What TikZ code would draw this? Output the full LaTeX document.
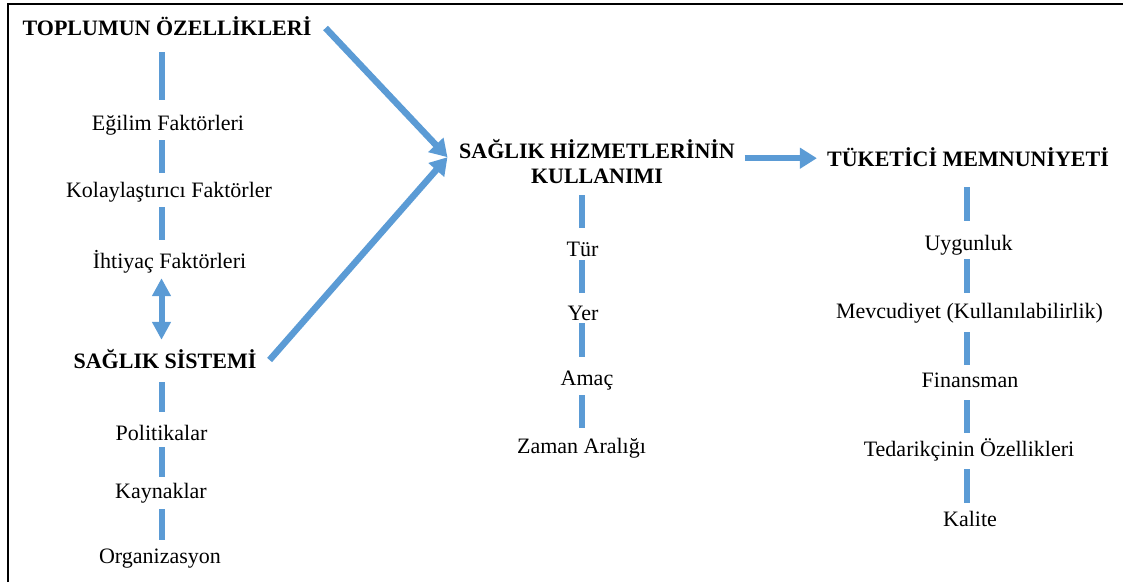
\documentclass[tikz,border=0pt]{standalone}
\usepackage{fontspec}
\setmainfont{Liberation Serif}
\usetikzlibrary{arrows.meta}
\definecolor{flowblue}{HTML}{5B9BD5}
\begin{document}
\begin{tikzpicture}[x=1pt,y=-1pt,
  item/.style={font=\fontsize{22}{26}\selectfont, inner sep=0pt,
    text height=16pt, text depth=5pt, anchor=base},
  head/.style={item, font=\fontsize{22}{26}\selectfont\bfseries},
  link/.style={draw=flowblue, line width=6pt},
  flow/.style={draw=flowblue, line width=6.5pt,
    -{Triangle[length=17pt,width=20pt]}},
  twoway/.style={draw=flowblue, line width=6pt,
    {Triangle[length=18pt,width=18pt]}-{Triangle[length=18pt,width=18pt]}}]
\useasboundingbox (0,0) rectangle (1123,582);
% frame (top and left edges)
\draw[line width=2pt] (7.5,582) -- (7.5,3.5) -- (1123,3.5);

% column axes for the vertical links
\coordinate (colL) at (161.5,0);
\coordinate (colM) at (582,0);
\coordinate (colR) at (967,0);

% left column
\node[head] (top) at (167,35) {TOPLUMUN ÖZELLİKLERİ};
\node[item] (egi) at (168,130) {Eğilim Faktörleri};
\node[item] (kol) at (169,197) {Kolaylaştırıcı Faktörler};
\node[item] (iht) at (169.5,268) {İhtiyaç Faktörleri};
\node[head] (sag) at (165,368) {SAĞLIK SİSTEMİ};
\node[item] (pol) at (161.5,440) {Politikalar};
\node[item] (kay) at (161,498) {Kaynaklar};
\node[item] (org) at (160,563) {Organizasyon};

% middle column
\node[head] (hiz1) at (597,158) {SAĞLIK HİZMETLERİNİN};
\node[head] (hiz2) at (597,183) {KULLANIMI};
\node[item] (tur) at (582.5,256) {Tür};
\node[item] (yer) at (583,320) {Yer};
\node[item] (ama) at (587,385) {Amaç};
\node[item] (zam) at (581.5,453) {Zaman Aralığı};

% right column
\node[head] (tuk) at (968,166) {TÜKETİCİ MEMNUNİYETİ};
\node[item] (uyg) at (968.5,250) {Uygunluk};
\node[item] (mev) at (969.5,318) {Mevcudiyet (Kullanılabilirlik)};
\node[item] (fin) at (970,387) {Finansman};
\node[item] (ted) at (969,456) {Tedarikçinin Özellikleri};
\node[item] (kal) at (970,526) {Kalite};

% vertical links, left column
\draw[link, shorten <=12pt, shorten >=14pt] (top.south -| colL) -- (egi.north -| colL);
\draw[link, shorten <=5pt, shorten >=8pt] (egi.south -| colL) -- (kol.north -| colL);
\draw[link, shorten <=5pt, shorten >=12pt] (kol.south -| colL) -- (iht.north -| colL);
\draw[twoway, shorten <=5pt, shorten >=12pt] (iht.south -| colL) -- (sag.north -| colL);
\draw[link, shorten <=9pt, shorten >=12pt] (sag.south -| colL) -- (pol.north -| colL);
\draw[link, shorten <=2pt, shorten >=5pt] (pol.south -| colL) -- (kay.north -| colL);
\draw[link, shorten <=6pt, shorten >=7pt] (kay.south -| colL) -- (org.north -| colL);

% vertical links, middle column
\draw[link, shorten <=7pt, shorten >=12pt] (hiz2.south -| colM) -- (tur.north -| colM);
\draw[link, shorten <=-1pt, shorten >=11pt] (tur.south -| colM) -- (yer.north -| colM);
\draw[link, shorten <=-2pt, shorten >=12pt] (yer.south -| colM) -- (ama.north -| colM);
\draw[link, shorten <=5pt, shorten >=9pt] (ama.south -| colM) -- (zam.north -| colM);

% vertical links, right column
\draw[link, shorten <=16pt, shorten >=13pt] (tuk.south -| colR) -- (uyg.north -| colR);
\draw[link, shorten <=4pt, shorten >=9pt] (uyg.south -| colR) -- (mev.north -| colR);
\draw[link, shorten <=9pt, shorten >=6pt] (mev.south -| colR) -- (fin.north -| colR);
\draw[link, shorten <=8pt, shorten >=7pt] (fin.south -| colR) -- (ted.north -| colR);
\draw[link, shorten <=8pt, shorten >=7pt] (ted.south -| colR) -- (kal.north -| colR);

% main flow arrows
\draw[flow] ([xshift=14pt,yshift=1.5pt]top.east) -- ([xshift=-11.5pt,yshift=6pt]hiz1.south west);
\draw[flow] ([xshift=13pt,yshift=2.5pt]sag.east) -- ([xshift=-11.5pt,yshift=6pt]hiz1.south west);
\draw[flow] ([xshift=9.5pt,yshift=5pt]hiz1.south east) -- ([xshift=-10pt,yshift=5pt]tuk.west |- hiz1.south east);
\end{tikzpicture}
\end{document}
